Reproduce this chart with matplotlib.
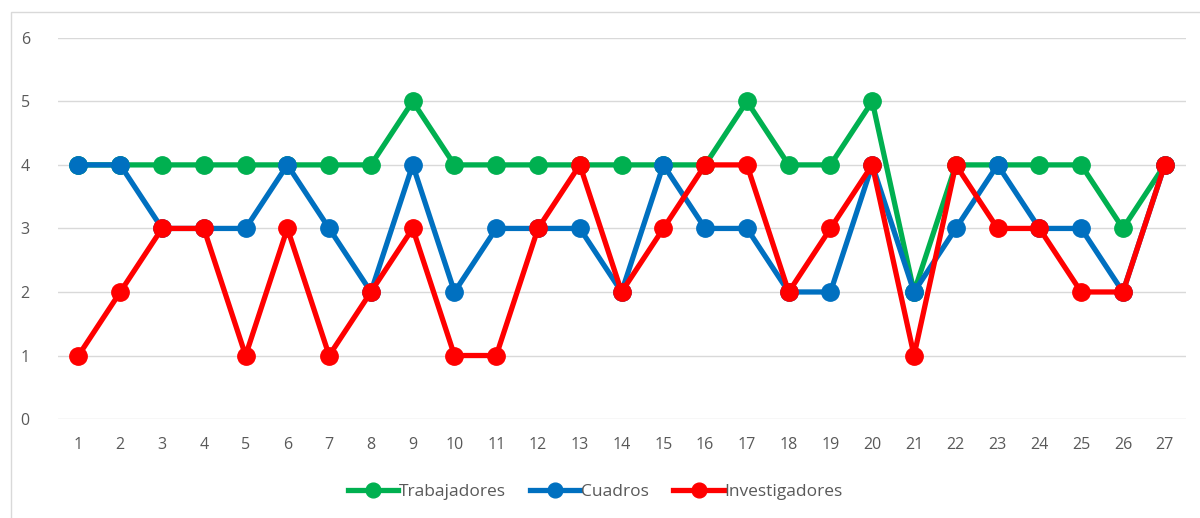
import matplotlib.pyplot as plt
from matplotlib.patches import Rectangle

plt.rcParams['font.family'] = ['Open Sans', 'DejaVu Sans']

dias = list(range(1, 28))
trabajadores = [4, 4, 4, 4, 4, 4, 4, 4, 5, 4, 4, 4, 4, 4, 4, 4, 5, 4, 4, 5, 2, 4, 4, 4, 4, 3, 4]
cuadros = [4, 4, 3, 3, 3, 4, 3, 2, 4, 2, 3, 3, 3, 2, 4, 3, 3, 2, 2, 4, 2, 3, 4, 3, 3, 2, 4]
investigadores = [1, 2, 3, 3, 1, 3, 1, 2, 3, 1, 1, 3, 4, 2, 3, 4, 4, 2, 3, 4, 1, 4, 3, 3, 2, 2, 4]

series = [
    ('Trabajadores', trabajadores, '#00B050'),
    ('Cuadros', cuadros, '#0070C0'),
    ('Investigadores', investigadores, '#FF0000'),
]

fig = plt.figure(figsize=(12, 5.18), dpi=100)
ax = fig.add_axes([0.048, 0.191, 0.94, 0.736])

# marco gris del area del grafico (recortado)
fig.patches.append(Rectangle((0.009, -0.01), 1.2, 0.987, transform=fig.transFigure,
                             fill=False, edgecolor='#D9D9D9', linewidth=1))

for nombre, valores, color in series:
    ax.plot(dias, valores, color=color, linewidth=3.8, marker='o',
            markersize=12.5, label=nombre, solid_joinstyle='round', zorder=3)

ax.set_xlim(0.5, 27.5)
ax.set_ylim(0, 6)
ax.set_xticks(dias)
ax.set_yticks(range(0, 7))
ax.grid(axis='y', color='#D9D9D9', linewidth=1)
ax.set_axisbelow(True)
for s in ax.spines.values():
    s.set_visible(False)
ax.tick_params(length=0, labelsize=11.5, colors='#595959', pad=13)
ax.tick_params(axis='y', pad=20)

handles, labels = ax.get_legend_handles_labels()
leg = fig.legend(handles, labels, loc='center', bbox_to_anchor=(0.496, 26 / 518), ncol=3,
                 frameon=False, fontsize=12.5, handlelength=2.9, handletextpad=0.05,
                 columnspacing=1.4, markerscale=0.85)
for t in leg.get_texts():
    t.set_color('#595959')

fig.savefig('out.png', dpi=100)
